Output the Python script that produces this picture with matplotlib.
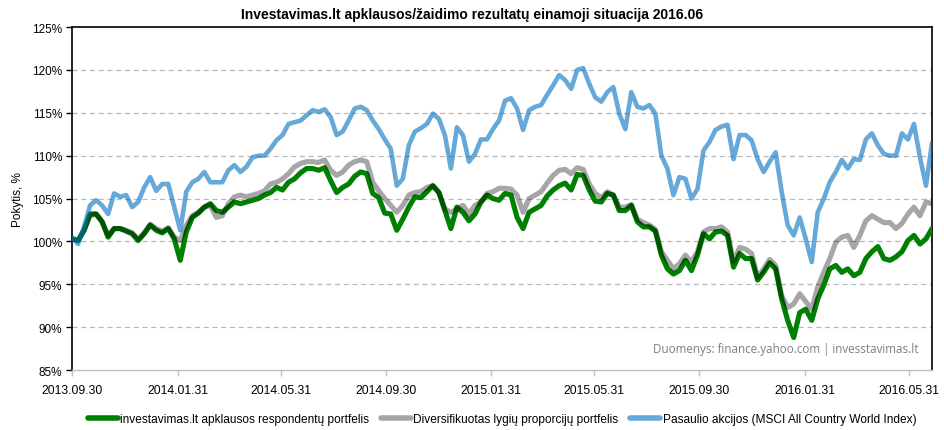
import pandas as pd
import matplotlib
matplotlib.use('Agg')
import matplotlib.pyplot as plt
import matplotlib.dates as mdates
from matplotlib.ticker import FixedLocator, FuncFormatter

plt.rcParams['font.family'] = ['Liberation Sans', 'DejaVu Sans']

# savaitiniai taskai nuo 2013.09.30
dates = pd.date_range('2013-09-30', periods=144, freq='7D')

respondentai = [100.3, 100.1, 101.3, 103.2, 103.2, 102.3, 100.5, 101.5, 101.5, 101.2,
                100.9, 100.1, 100.9, 101.9, 101.3, 101.0, 101.5, 100.3, 97.8, 101.1,
                102.8, 103.3, 104.0, 104.4, 103.6, 103.4, 104.0, 104.6, 104.4, 104.6,
                104.8, 105.0, 105.4, 105.7, 106.3, 106.0, 106.9, 107.3, 108.0, 108.5,
                108.5, 108.3, 108.6, 107.1, 105.7, 106.3, 106.7, 107.6, 108.1, 107.9,
                105.6, 105.1, 103.3, 103.2, 101.3, 102.6, 104.0, 105.2, 105.1, 105.8,
                106.5, 105.7, 103.6, 101.5, 104.0, 103.4, 102.4, 103.2, 104.6, 105.4,
                105.0, 104.8, 105.6, 105.4, 102.8, 101.5, 103.4, 103.8, 104.2, 105.3,
                106.0, 106.5, 106.8, 106.0, 107.8, 107.7, 106.0, 104.7, 104.6, 105.6,
                105.4, 103.6, 103.6, 104.2, 102.3, 101.7, 101.7, 101.2, 98.4, 96.8,
                96.2, 96.6, 97.8, 96.6, 98.4, 100.9, 100.3, 101.1, 101.2, 100.7,
                97.0, 98.6, 98.0, 98.0, 95.5, 96.4, 97.5, 96.8, 93.3, 90.8,
                88.8, 91.7, 92.1, 90.8, 93.3, 94.9, 96.8, 97.2, 96.4, 96.8,
                96.0, 96.4, 98.0, 98.8, 99.4, 98.0, 97.8, 98.2, 98.8, 100.1,
                100.7, 99.7, 100.3, 101.5]

diversifikuotas = [100.3, 100.1, 101.3, 103.0, 103.2, 102.3, 100.7, 101.5, 101.5, 101.3,
                   101.0, 100.3, 101.0, 102.0, 101.5, 101.2, 101.6, 100.5, 100.1, 101.9,
                   103.0, 103.4, 104.0, 104.2, 102.8, 103.0, 104.4, 105.2, 105.4, 105.2,
                   105.4, 105.6, 105.9, 106.7, 106.9, 107.3, 107.9, 108.7, 109.1, 109.3,
                   109.3, 109.2, 109.5, 108.3, 107.7, 108.1, 108.9, 109.3, 109.5, 109.3,
                   106.9, 105.9, 105.0, 104.2, 103.4, 104.2, 105.4, 105.7, 105.8, 106.3,
                   106.5, 105.7, 103.8, 103.4, 103.8, 104.2, 103.2, 104.2, 104.6, 105.6,
                   105.8, 106.2, 106.2, 106.1, 105.4, 103.4, 105.0, 105.4, 105.8, 106.8,
                   107.7, 108.3, 108.4, 107.9, 108.6, 108.4, 106.7, 105.6, 105.1, 105.8,
                   105.4, 104.0, 104.0, 104.3, 102.6, 102.2, 101.9, 101.4, 98.8, 97.8,
                   96.8, 97.4, 98.4, 97.6, 98.8, 101.1, 101.5, 101.5, 101.7, 101.1,
                   97.6, 99.3, 99.1, 98.6, 95.8, 96.8, 97.9, 97.2, 93.7, 92.3,
                   92.7, 93.9, 93.0, 92.1, 94.7, 96.4, 98.0, 99.9, 100.5, 100.7,
                   99.3, 100.7, 102.4, 103.0, 102.6, 102.2, 102.2, 101.5, 102.1, 103.2,
                   104.0, 103.0, 104.6, 104.4]

pasaulio = [100.5, 99.7, 101.7, 104.2, 104.8, 104.2, 103.2, 105.6, 105.2, 105.4,
            104.0, 104.6, 106.3, 107.5, 105.9, 106.7, 106.7, 104.0, 101.3, 105.8,
            106.9, 107.3, 108.1, 106.9, 106.9, 106.9, 108.3, 108.9, 108.1, 108.7,
            109.8, 110.0, 110.0, 110.8, 111.8, 112.4, 113.7, 113.9, 114.1, 114.7,
            115.3, 115.1, 115.4, 114.5, 112.4, 112.8, 114.1, 115.5, 115.7, 115.3,
            114.1, 113.1, 111.9, 110.8, 106.5, 107.3, 111.2, 112.8, 113.2, 113.7,
            114.9, 114.3, 112.4, 108.5, 113.3, 112.4, 109.3, 110.2, 111.9, 111.9,
            113.1, 114.1, 116.4, 116.7, 115.5, 113.0, 115.3, 115.7, 115.9, 117.1,
            118.2, 119.4, 118.8, 117.8, 120.0, 120.2, 118.4, 116.8, 116.3, 117.4,
            118.0, 114.9, 113.1, 117.4, 115.7, 115.5, 115.9, 114.9, 110.0, 108.5,
            105.4, 107.5, 107.3, 105.0, 106.1, 110.6, 111.6, 113.0, 113.4, 113.6,
            109.6, 112.4, 112.4, 111.8, 109.6, 108.1, 109.3, 110.4, 105.8, 101.9,
            100.7, 102.8, 100.3, 97.6, 103.4, 105.0, 106.9, 108.1, 109.5, 108.5,
            109.6, 109.5, 111.9, 112.6, 111.2, 110.2, 110.0, 110.0, 112.6, 111.9,
            113.7, 109.8, 106.5, 111.5]

tick_dates = ['2013-09-30', '2014-01-31', '2014-05-31', '2014-09-30', '2015-01-31',
              '2015-05-31', '2015-09-30', '2016-01-31', '2016-05-31']
yticks = [85, 90, 95, 100, 105, 110, 115, 120, 125]

names = ['investavimas.lt apklausos respondentų portfelis',
         'Diversifikuotas lygių proporcijų portfelis',
         'Pasaulio akcijos (MSCI All Country World Index)']

fig = plt.figure(figsize=(9.44, 4.31), dpi=100)
ax = fig.add_axes([0.0763, 0.139, 0.911, 0.796])

ax.plot(dates, respondentai, color='#008000', lw=3.7, label=names[0],
        solid_joinstyle='round', solid_capstyle='round', zorder=3)
ax.plot(dates, diversifikuotas, color='black', alpha=0.35, lw=3.7, label=names[1],
        solid_joinstyle='round', solid_capstyle='round', zorder=4)
ax.plot(dates, pasaulio, color='#0070C0', alpha=0.6, lw=3.3, label=names[2],
        solid_joinstyle='round', solid_capstyle='round', zorder=5)

ax.set_xlim(dates[0], dates[-1])
ax.set_ylim(85, 125)
ax.set_yticks(yticks)
ax.yaxis.set_major_formatter(FuncFormatter(lambda v, p: '%d%%' % v))
for v in yticks[1:-1]:
    ax.axhline(v, color='#b8b8b8', lw=0.9, ls=(0, (4, 3)), zorder=1)

tk = [mdates.date2num(pd.Timestamp(d)) for d in tick_dates]
ax.xaxis.set_major_locator(FixedLocator(tk))
ax.set_xticklabels([d.replace('-', '.') for d in tick_dates])

ax.tick_params(axis='y', labelsize=8.5, length=4, width=1, direction='out', pad=3)
ax.tick_params(axis='x', labelsize=8.8, length=4, width=1, color='#bfbfbf',
               direction='out', pad=6)
for s in ['top', 'left', 'right']:
    ax.spines[s].set_color('black')
    ax.spines[s].set_linewidth(1.2)
ax.spines['bottom'].set_color('#bfbfbf')
ax.spines['bottom'].set_linewidth(1.0)

ax.set_ylabel('Pokytis, %', fontsize=8.5, labelpad=6)
fig.text(0.5, 0.965, 'Investavimas.lt apklausos/žaidimo rezultatų einamoji situacija 2016.06',
         ha='center', va='center', fontsize=10, fontweight='bold')

ax.text(0.984, 0.045, 'Duomenys: finance.yahoo.com | invesstavimas.lt',
        transform=ax.transAxes, ha='right', va='bottom', fontsize=8.4,
        color='#7f7f7f', family=['Open Sans', 'DejaVu Sans'])

leg = ax.legend(loc='upper center', bbox_to_anchor=(0.5, -0.095), ncol=3,
                frameon=False, fontsize=8.6, handlelength=2.5, handletextpad=0.2,
                columnspacing=1.0)
for h in leg.get_lines():
    h.set_linewidth(4)

fig.savefig('out.png', dpi=100)
